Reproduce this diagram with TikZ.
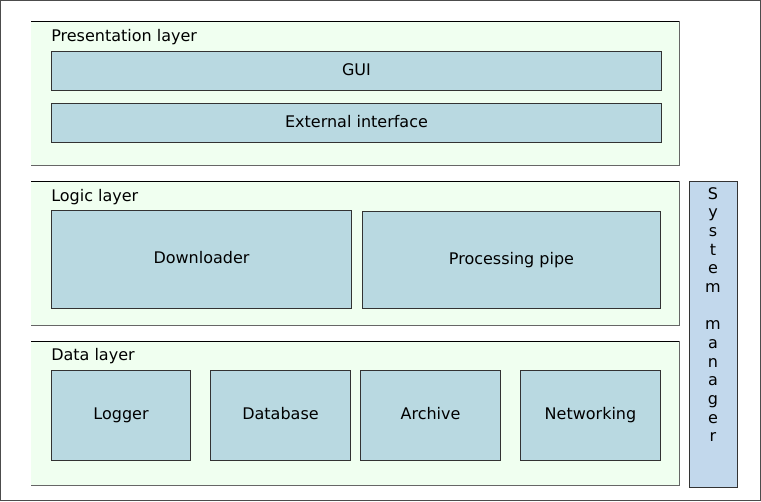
\documentclass[tikz,border=0pt]{standalone}
\usepackage{fontspec}
\setmainfont{DejaVu Sans}
\usetikzlibrary{positioning}

\definecolor{layerfill}{HTML}{F0FFF0}
\definecolor{boxfill}{HTML}{B9D9E1}
\definecolor{sysfill}{HTML}{C2D8EC}

\begin{document}
\begin{tikzpicture}[x=0.75pt, y=-0.75pt, font=\fontsize{12}{14}\selectfont,
layer/.style={fill=layerfill, inner sep=0pt, minimum width=648*0.75pt, minimum height=144*0.75pt, anchor=north west},
comp/.style={draw=black!80, fill=boxfill, inner sep=0pt, line width=0.75pt, anchor=north west, text height=1.6ex, text depth=0.45ex},
title/.style={anchor=base west, inner sep=0pt}]

\draw[black!70, line width=0.75pt] (0.5,0.5) rectangle (760.5,500.5);

% layers
\node[layer] (pres) at (31,21) {};
\node[layer] (logic) at (31,181) {};
\node[layer] (data) at (31,341) {};
\foreach \l in {pres,logic,data} {
  \draw[black, line width=0.75pt] (\l.north west) -- (\l.north east);
  \draw[black!60, line width=0.75pt] (\l.north east) -- (\l.south east);
  \draw[black!60, line width=0.75pt] (\l.south west) -- (\l.south east);
}
\node[title] (prestitle) at (51,41) {Presentation layer};
\node[title] (logictitle) at (51,201) {Logic layer};
\node[title] (datatitle) at (51,360) {Data layer};

% presentation
\node[comp, minimum width=610*0.75pt, minimum height=39*0.75pt] (gui) at (51,51) {GUI};
\node[comp, minimum width=610*0.75pt, minimum height=39*0.75pt] (extif) at (51,103) {External interface};

% logic
\node[comp, minimum width=300*0.75pt, minimum height=98*0.75pt] (down) at (51,210) {Downloader};
\node[comp, minimum width=298*0.75pt, minimum height=97*0.75pt] (pipe) at (362,211) {Processing pipe};

% data
\node[comp, minimum width=139*0.75pt, minimum height=90*0.75pt] (logger) at (51,370) {Logger};
\node[comp, minimum width=140*0.75pt, minimum height=90*0.75pt] (db) at (210,370) {Database};
\node[comp, minimum width=140*0.75pt, minimum height=90*0.75pt] (archive) at (360,370) {Archive};
\node[comp, minimum width=140*0.75pt, minimum height=90*0.75pt] (net) at (520,370) {Networking};

% system manager
\node[comp, fill=sysfill, minimum width=48*0.75pt, minimum height=306*0.75pt] (sysman) at (689,181) {};
\node[align=center, anchor=north, inner sep=0pt] (systext) at (713,187) {S\\y\\s\\t\\e\\m\\[14pt]m\\a\\n\\a\\g\\e\\r};
\end{tikzpicture}
\end{document}
